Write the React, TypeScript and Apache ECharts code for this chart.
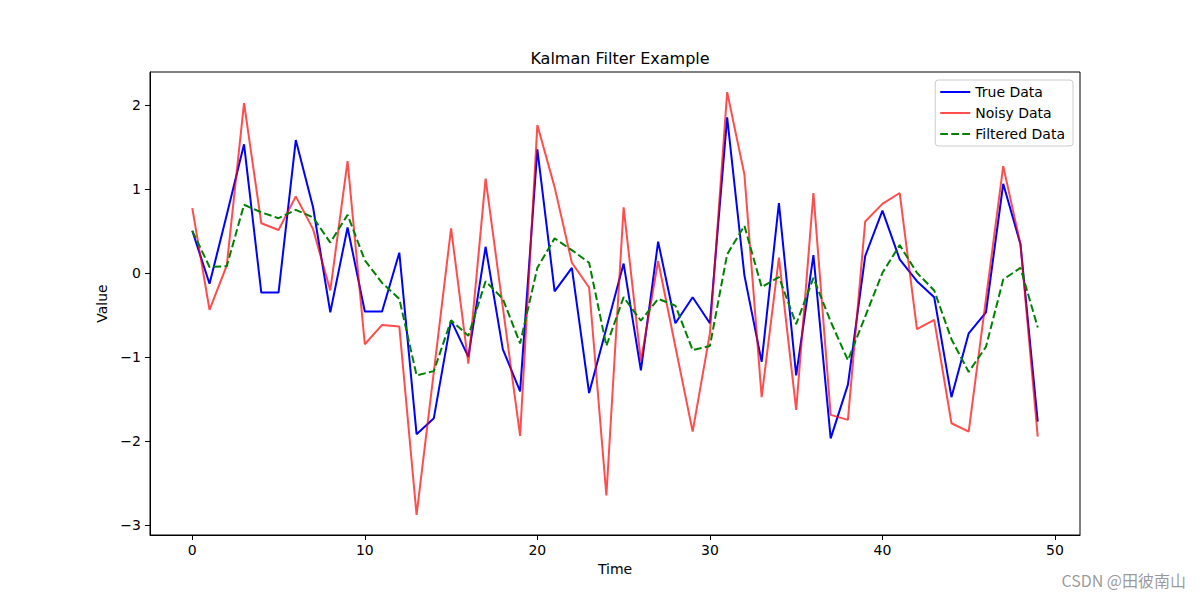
import React, { useEffect, useRef } from "react";
import * as echarts from "echarts";

const timeSteps: number[] = Array.from({ length: 50 }, (_, i) => i);

const trueData: number[] = [
  0.5, -0.13, 0.69, 1.53, -0.235, -0.235, 1.58, 0.78, -0.47, 0.54,
  -0.46, -0.46, 0.24, -1.92, -1.73, -0.565, -1.0, 0.31, -0.91, -1.41,
  1.47, -0.22, 0.06, -1.43, -0.66, 0.11, -1.16, 0.37, -0.6, -0.29,
  -0.6, 1.85, -0.03, -1.06, 0.83, -1.22, 0.21, -1.97, -1.33, 0.2,
  0.74, 0.16, -0.1, -0.29, -1.48, -0.72, -0.47, 1.06, 0.34, -1.77,
];

const noisyData: number[] = [
  0.77, -0.44, 0.09, 2.02, 0.59, 0.51, 0.91, 0.52, -0.21, 1.33,
  -0.85, -0.62, -0.64, -2.88, -1.18, 0.53, -1.08, 1.12, -0.41, -1.94,
  1.76, 1.02, 0.12, -0.175, -2.65, 0.78, -1.05, 0.14, -0.88, -1.89,
  -0.72, 2.15, 1.17, -1.48, 0.18, -1.63, 0.95, -1.69, -1.75, 0.61,
  0.82, 0.95, -0.67, -0.56, -1.79, -1.89, -0.31, 1.27, 0.34, -1.95,
];

const filteredData: number[] = [
  0.5, 0.07, 0.08, 0.81, 0.72, 0.65, 0.75, 0.66, 0.36, 0.69,
  0.15, -0.12, -0.31, -1.22, -1.17, -0.565, -0.75, -0.1, -0.31, -0.84,
  0.06, 0.41, 0.27, 0.12, -0.87, -0.29, -0.57, -0.31, -0.39, -0.92,
  -0.87, 0.22, 0.56, -0.17, -0.05, -0.61, -0.06, -0.58, -1.04, -0.52,
  0.0, 0.33, 0.0, -0.21, -0.79, -1.18, -0.88, -0.08, 0.06, -0.65,
];

const xTicks: number[] = [0, 10, 20, 30, 40, 50];
const yTicks: number[] = [-3, -2, -1, 0, 1, 2];

const FONT = "DejaVu Sans";
const fmt = (v: number) => String(v).replace("-", "\u2212");

export default function App() {
  const ref = useRef<HTMLDivElement>(null);
  useEffect(() => {
    if (!ref.current) return;
    const chart = echarts.init(ref.current, undefined, { renderer: "svg" });
    const pair = (arr: number[]) => timeSteps.map((t, i) => [t, arr[i]]);
    chart.setOption({
      animation: false,
      backgroundColor: "#ffffff",
      textStyle: { fontFamily: FONT },
      title: {
        text: "Kalman Filter Example",
        left: 615,
        textAlign: "center",
        top: 45,
        textStyle: { fontFamily: FONT, fontSize: 16, fontWeight: "normal", color: "#000" },
      },
      grid: {
        left: 150,
        right: 120,
        top: 72,
        bottom: 65,
        show: true,
        borderColor: "#000",
        borderWidth: 1,
        backgroundColor: "transparent",
      },
      legend: {
        orient: "vertical",
        right: 127,
        top: 80,
        itemWidth: 30,
        itemHeight: 14,
        itemGap: 7,
        padding: [5, 8, 5, 4],
        backgroundColor: "#fff",
        borderColor: "#cccccc",
        borderWidth: 1,
        borderRadius: 3,
        itemStyle: { opacity: 0 },
        textStyle: { fontFamily: FONT, fontSize: 14, color: "#000" },
        data: ["True Data", "Noisy Data", "Filtered Data"],
      },
      xAxis: {
        type: "value",
        min: -2.45,
        max: 51.45,
        name: "Time",
        nameLocation: "middle",
        nameGap: 27,
        nameTextStyle: { fontFamily: FONT, fontSize: 14, color: "#000" },
        splitLine: { show: false },
        axisLine: { show: true, onZero: false, lineStyle: { color: "#000", width: 1 } },
        axisTick: { show: true, inside: false, length: 5, lineStyle: { color: "#000" }, customValues: xTicks },
        axisLabel: {
          fontFamily: FONT,
          fontSize: 14,
          color: "#000",
          margin: 8,
          customValues: xTicks,
          formatter: (v: number) => fmt(v),
        },
      },
      yAxis: {
        type: "value",
        min: -3.12,
        max: 2.39,
        name: "Value",
        nameLocation: "middle",
        nameGap: 37,
        nameTextStyle: { fontFamily: FONT, fontSize: 14, color: "#000" },
        splitLine: { show: false },
        axisLine: { show: true, onZero: false, lineStyle: { color: "#000", width: 1 } },
        axisTick: { show: true, inside: false, length: 5, lineStyle: { color: "#000" }, customValues: yTicks },
        axisLabel: {
          fontFamily: FONT,
          fontSize: 14,
          color: "#000",
          margin: 9,
          customValues: yTicks,
          formatter: (v: number) => fmt(v),
        },
      },
      series: [
        {
          name: "True Data",
          type: "line",
          data: pair(trueData),
          showSymbol: false,
          symbol: "none",
          lineStyle: { color: "#0000ff", width: 2 },
          itemStyle: { color: "#0000ff" },
          z: 2,
        },
        {
          name: "Noisy Data",
          type: "line",
          data: pair(noisyData),
          showSymbol: false,
          symbol: "none",
          lineStyle: { color: "rgba(255,0,0,0.7)", width: 2 },
          itemStyle: { color: "rgba(255,0,0,0.7)" },
          z: 3,
        },
        {
          name: "Filtered Data",
          type: "line",
          data: pair(filteredData),
          showSymbol: false,
          symbol: "none",
          lineStyle: { color: "#008000", width: 2, type: [7.7, 3.3] },
          itemStyle: { color: "#008000" },
          z: 4,
        },
      ],
      graphic: [
        {
          type: "text",
          right: 14,
          top: 572,
          style: {
            text: "CSDN @田彼南山",
            fontFamily: "Noto Sans CJK SC",
            fontSize: 16,
            fill: "rgba(120,120,120,0.75)",
          },
        },
      ],
    });
    return () => chart.dispose();
  }, []);
  return (
    <div
      ref={ref}
      style={{ position: "fixed", left: 0, top: 0, width: 1200, height: 600 }}
    />
  );
}
